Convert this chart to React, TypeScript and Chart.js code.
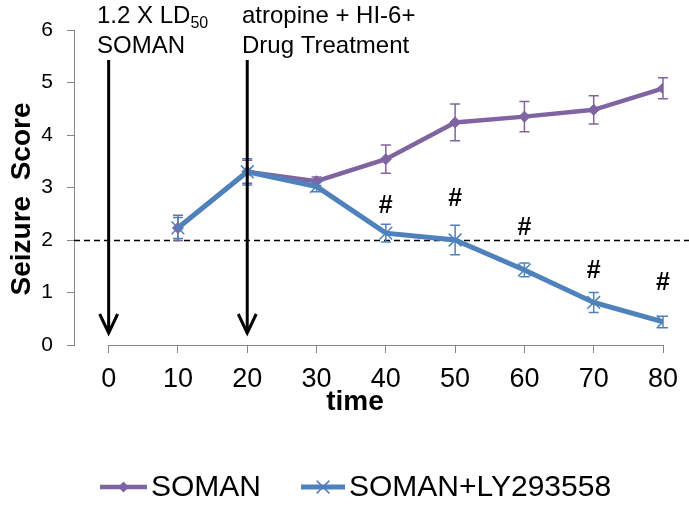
import React, { useEffect, useRef } from "react";
import { Chart, registerables } from "chart.js";

Chart.register(...registerables);

// ---- data ----
const timePoints = [10, 20, 30, 40, 50, 60, 70, 80];
const somanScores = [2.23, 3.3, 3.12, 3.54, 4.24, 4.35, 4.48, 4.89];
const somanErrors = [0.24, 0.22, 0.08, 0.27, 0.35, 0.29, 0.27, 0.2];
const lyScores = [2.23, 3.3, 3.02, 2.13, 2.0, 1.43, 0.81, 0.44];
const lyErrors = [0.2, 0.25, 0.1, 0.17, 0.28, 0.13, 0.19, 0.11];
const xTickValues = [0, 10, 20, 30, 40, 50, 60, 70, 80];
const hashTimes = [40, 50, 60, 70, 80];
const hashLevels = [2.65, 2.77, 2.22, 1.4, 1.17];
const thresholdScore = 2;
const arrowTimes = [0, 20];
const seriesNames = ["SOMAN", "SOMAN+LY293558"];
const xTitle = "time";
const yTitle = "Seizure  Score";

const PURPLE = "#8064A2";
const BLUE = "#4F81BD";
const AXIS = "#868686";
const FONT = "'Liberation Sans', Arial, Helvetica, sans-serif";

const errorsFor = [somanErrors, lyErrors];

const overlayPlugin = {
  id: "overlay",
  beforeDatasetsDraw(chart: any) {
    const { ctx, chartArea, scales } = chart;
    const xs = scales.x;
    const ys = scales.y;
    ctx.save();
    // x axis line
    ctx.strokeStyle = AXIS;
    ctx.lineWidth = 1;
    ctx.beginPath();
    ctx.moveTo(xs.getPixelForValue(0), chartArea.bottom + 0.5);
    ctx.lineTo(xs.getPixelForValue(80), chartArea.bottom + 0.5);
    ctx.stroke();
    // threshold dashed line
    const ty = Math.round(ys.getPixelForValue(thresholdScore)) + 0.5;
    ctx.strokeStyle = "#000";
    ctx.lineWidth = 1.5;
    ctx.setLineDash([6, 4]);
    ctx.beginPath();
    ctx.moveTo(chartArea.left, ty);
    ctx.lineTo(chart.width, ty);
    ctx.stroke();
    ctx.setLineDash([]);
    // error bars
    chart.data.datasets.forEach((ds: any, di: number) => {
      const errs = errorsFor[di];
      ctx.strokeStyle = ds.borderColor;
      ctx.lineWidth = 1.5;
      ds.data.forEach((p: any, i: number) => {
        const px = xs.getPixelForValue(p.x);
        const top = ys.getPixelForValue(p.y + errs[i]);
        const bot = ys.getPixelForValue(p.y - errs[i]);
        ctx.beginPath();
        ctx.moveTo(px, top);
        ctx.lineTo(px, bot);
        ctx.moveTo(px - 5, top);
        ctx.lineTo(px + 5, top);
        ctx.moveTo(px - 5, bot);
        ctx.lineTo(px + 5, bot);
        ctx.stroke();
      });
    });
    ctx.restore();
  },
  afterDatasetsDraw(chart: any) {
    const { ctx, chartArea, scales } = chart;
    const xs = scales.x;
    const ys = scales.y;
    ctx.save();
    // hash marks
    ctx.fillStyle = "#000";
    ctx.font = `bold 25px ${FONT}`;
    ctx.textAlign = "center";
    ctx.textBaseline = "middle";
    hashTimes.forEach((t, i) => {
      ctx.fillText("#", xs.getPixelForValue(t), ys.getPixelForValue(hashLevels[i]));
    });
    // arrows
    ctx.strokeStyle = "#000";
    ctx.lineWidth = 3;
    ctx.lineCap = "butt";
    arrowTimes.forEach((t) => {
      const x = xs.getPixelForValue(t);
      const tip = chartArea.bottom - 12;
      ctx.beginPath();
      ctx.moveTo(x, 60);
      ctx.lineTo(x, tip);
      ctx.stroke();
      ctx.beginPath();
      ctx.moveTo(x - 9, tip - 19);
      ctx.lineTo(x, tip);
      ctx.lineTo(x + 9, tip - 19);
      ctx.stroke();
    });
    // annotations
    ctx.textAlign = "left";
    ctx.textBaseline = "alphabetic";
    ctx.font = `24px ${FONT}`;
    const a1 = "1.2 X LD";
    ctx.fillText(a1, 97, 23);
    const w1 = ctx.measureText(a1).width;
    ctx.font = `16px ${FONT}`;
    ctx.fillText("50", 97 + w1, 28);
    ctx.font = `24px ${FONT}`;
    ctx.fillText("SOMAN", 97, 53);
    ctx.fillText("atropine + HI-6+", 242, 23);
    ctx.fillText("Drug Treatment", 242, 53);
    // axis titles
    ctx.font = `bold 28px ${FONT}`;
    ctx.textAlign = "center";
    ctx.textBaseline = "middle";
    ctx.fillText(xTitle, 355, 402);
    ctx.save();
    ctx.translate(22, 199);
    ctx.rotate(-Math.PI / 2);
    ctx.fillText(yTitle, 0, 0);
    ctx.restore();
    // legend
    const ly = 487;
    const items = [
      { x0: 100, x1: 147, tx: 151 },
      { x0: 301, x1: 345, tx: 349 },
    ];
    chart.data.datasets.forEach((ds: any, i: number) => {
      const it = items[i];
      ctx.strokeStyle = ds.borderColor;
      ctx.lineWidth = ds.borderWidth;
      ctx.beginPath();
      ctx.moveTo(it.x0, ly);
      ctx.lineTo(it.x1, ly);
      ctx.stroke();
      const cx = (it.x0 + it.x1) / 2;
      ctx.fillStyle = ds.borderColor;
      ctx.lineWidth = ds.pointBorderWidth;
      ctx.beginPath();
      if (ds.pointStyle === "rectRot") {
        const r = ds.pointRadius;
        ctx.moveTo(cx, ly - r);
        ctx.lineTo(cx + r, ly);
        ctx.lineTo(cx, ly + r);
        ctx.lineTo(cx - r, ly);
        ctx.closePath();
        ctx.fill();
      } else {
        const r = ds.pointRadius * 0.707;
        ctx.moveTo(cx - r, ly - r);
        ctx.lineTo(cx + r, ly + r);
        ctx.moveTo(cx + r, ly - r);
        ctx.lineTo(cx - r, ly + r);
        ctx.stroke();
      }
      ctx.fillStyle = "#000";
      ctx.font = `30px ${FONT}`;
      ctx.textAlign = "left";
      ctx.textBaseline = "middle";
      ctx.fillText(ds.label, it.tx, ly + 1);
    });
    ctx.restore();
  },
};

export default function App() {
  const canvasRef = useRef<HTMLCanvasElement | null>(null);

  useEffect(() => {
    const canvas = canvasRef.current;
    if (!canvas) return;
    const chart = new Chart(canvas, {
      type: "line",
      data: {
        datasets: [
          {
            label: seriesNames[0],
            data: timePoints.map((t, i) => ({ x: t, y: somanScores[i] })),
            borderColor: PURPLE,
            backgroundColor: PURPLE,
            borderWidth: 4.5,
            pointStyle: "rectRot",
            pointRadius: 5.5,
            pointBorderWidth: 1,
            pointBackgroundColor: PURPLE,
            pointBorderColor: PURPLE,
            order: 2,
          },
          {
            label: seriesNames[1],
            data: timePoints.map((t, i) => ({ x: t, y: lyScores[i] })),
            borderColor: BLUE,
            backgroundColor: BLUE,
            borderWidth: 5,
            pointStyle: "crossRot",
            pointRadius: 9,
            pointBorderWidth: 1.5,
            pointBackgroundColor: BLUE,
            pointBorderColor: BLUE,
            order: 1,
          },
        ] as any,
      },
      options: {
        animation: false,
        responsive: false,
        maintainAspectRatio: false,
        layout: { padding: { top: 30, right: 26, left: 0, bottom: 0 } },
        plugins: {
          legend: { display: false },
          tooltip: { enabled: false },
          title: { display: false },
        },
        elements: { line: { tension: 0 } },
        scales: {
          x: {
            type: "linear",
            min: -5,
            max: 80,
            afterBuildTicks: (s: any) => {
              s.ticks = xTickValues.map((v) => ({ value: v }));
            },
            afterFit: (s: any) => {
              s.height = 163;
            },
            border: { display: false },
            grid: {
              drawOnChartArea: false,
              drawTicks: true,
              tickLength: 8,
              color: AXIS,
              lineWidth: 1,
            },
            ticks: {
              autoSkip: false,
              maxRotation: 0,
              color: "#000",
              padding: 10,
              font: { size: 27, family: FONT },
            },
          },
          y: {
            min: 0,
            max: 6,
            afterFit: (s: any) => {
              s.width = 74;
            },
            border: { display: true, color: AXIS, width: 1 },
            grid: {
              drawOnChartArea: false,
              drawTicks: true,
              tickLength: 7,
              color: AXIS,
              lineWidth: 1,
            },
            ticks: {
              stepSize: 1,
              color: "#000",
              padding: 14,
              font: { size: 21, family: FONT },
            },
          },
        },
      } as any,
      plugins: [overlayPlugin],
    });
    return () => chart.destroy();
  }, []);

  return (
    <div style={{ position: "fixed", left: 0, top: 0, width: 689, height: 508, background: "#fff" }}>
      <canvas ref={canvasRef} width={689} height={508} style={{ display: "block", width: 689, height: 508 }} />
    </div>
  );
}
